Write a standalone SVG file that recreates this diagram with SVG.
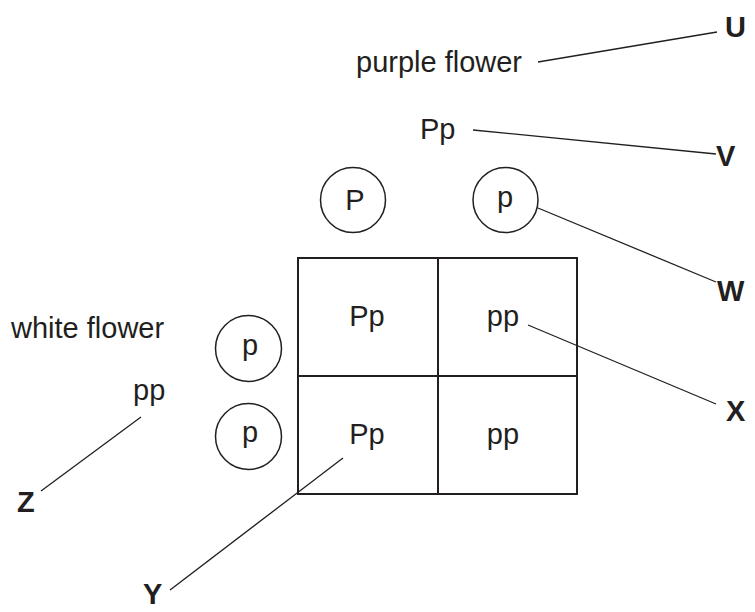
<svg xmlns="http://www.w3.org/2000/svg" width="755" height="612" viewBox="0 0 755 612">
<style>
text{font-family:"Liberation Sans",Arial,sans-serif;font-size:29px;fill:#231f20}
.b{font-weight:bold}
.m{text-anchor:middle}
.ln{stroke:#231f20;stroke-width:1.3;fill:none}
.c{stroke:#231f20;stroke-width:1.5;fill:#fff}
.g{stroke:#231f20;stroke-width:2;fill:none}
</style>
<rect width="755" height="612" fill="#fff"/>
<g id="connectors">
<line class="ln" x1="538" y1="62" x2="717" y2="32"/>
<line class="ln" x1="473" y1="130" x2="716" y2="154"/>
<line class="ln" x1="538" y1="208" x2="716" y2="282"/>
<line class="ln" x1="528" y1="325" x2="716" y2="404"/>
<line class="ln" x1="343" y1="458" x2="170" y2="590"/>
<line class="ln" x1="141" y1="417" x2="41" y2="491"/>
</g>
<g id="grid">
<rect class="g" x="298" y="258" width="279" height="236"/>
<line class="g" x1="438" y1="258" x2="438" y2="494"/>
<line class="g" x1="298" y1="376" x2="577" y2="376"/>
</g>
<g id="cell-tl"><text class="m" x="367" y="326">Pp</text></g>
<g id="cell-tr"><text class="m" x="503" y="326">pp</text></g>
<g id="cell-bl"><text class="m" x="367" y="444">Pp</text></g>
<g id="cell-br"><text class="m" x="503" y="444">pp</text></g>
<g id="gamete-P"><circle class="c" cx="353" cy="200" r="32.5"/><text class="m" x="355" y="210">P</text></g>
<g id="gamete-p-top"><circle class="c" cx="505.5" cy="200" r="32.5"/><text class="m" x="505" y="207">p</text></g>
<g id="gamete-p-1"><circle class="c" cx="248.5" cy="348.5" r="33"/><text class="m" x="250" y="355">p</text></g>
<g id="gamete-p-2"><circle class="c" cx="248.5" cy="436.5" r="33"/><text class="m" x="250" y="442">p</text></g>
<g id="purple-flower"><text x="356" y="72">purple flower</text></g>
<g id="purple-genotype"><text x="420" y="139">Pp</text></g>
<g id="white-flower"><text x="11" y="338">white flower</text></g>
<g id="white-genotype"><text x="133" y="400">pp</text></g>
<g id="label-U"><text class="b" x="725" y="37">U</text></g>
<g id="label-V"><text class="b" x="716" y="166">V</text></g>
<g id="label-W"><text class="b" x="717" y="301">W</text></g>
<g id="label-X"><text class="b" x="726" y="421">X</text></g>
<g id="label-Y"><text class="b" x="143" y="604">Y</text></g>
<g id="label-Z"><text class="b" x="17" y="512">Z</text></g>
</svg>
